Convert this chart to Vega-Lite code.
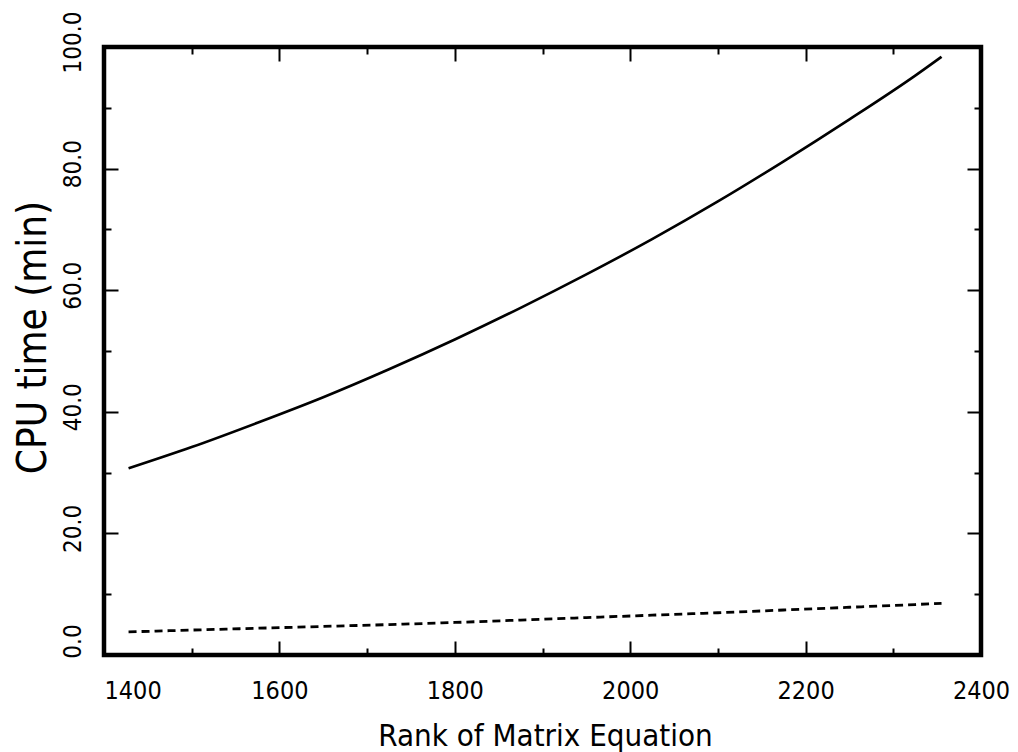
{
  "$schema": "https://vega.github.io/schema/vega-lite/v6.json",
  "width": 877,
  "height": 608,
  "autosize": {"type": "none"},
  "padding": {"left": 104, "top": 47, "right": 37, "bottom": 97},
  "background": "white",
  "config": {
    "view": {"stroke": "black", "strokeWidth": 4.5},
    "axis": {
      "domain": false,
      "grid": false,
      "tickColor": "black",
      "tickWidth": 2,
      "labelColor": "black",
      "titleColor": "black",
      "labelFont": "DejaVu Sans Condensed",
      "titleFont": "DejaVu Sans Condensed",
      "titleFontWeight": "normal",
      "labelOverlap": false,
      "labelBound": false,
      "labelFlush": false
    }
  },
  "data": {
    "values": [
      {"rank": 1428, "cpu": 30.7, "curve": "upper"},
      {"rank": 1500, "cpu": 34.2, "curve": "upper"},
      {"rank": 1575, "cpu": 38.2, "curve": "upper"},
      {"rank": 1650, "cpu": 42.4, "curve": "upper"},
      {"rank": 1725, "cpu": 47.0, "curve": "upper"},
      {"rank": 1800, "cpu": 51.9, "curve": "upper"},
      {"rank": 1875, "cpu": 57.1, "curve": "upper"},
      {"rank": 1950, "cpu": 62.6, "curve": "upper"},
      {"rank": 2025, "cpu": 68.4, "curve": "upper"},
      {"rank": 2100, "cpu": 74.6, "curve": "upper"},
      {"rank": 2175, "cpu": 81.2, "curve": "upper"},
      {"rank": 2250, "cpu": 88.1, "curve": "upper"},
      {"rank": 2325, "cpu": 95.3, "curve": "upper"},
      {"rank": 2355, "cpu": 98.4, "curve": "upper"},
      {"rank": 1428, "cpu": 3.8, "curve": "lower"},
      {"rank": 1500, "cpu": 4.1, "curve": "lower"},
      {"rank": 1575, "cpu": 4.4, "curve": "lower"},
      {"rank": 1650, "cpu": 4.7, "curve": "lower"},
      {"rank": 1725, "cpu": 5.0, "curve": "lower"},
      {"rank": 1800, "cpu": 5.35, "curve": "lower"},
      {"rank": 1875, "cpu": 5.75, "curve": "lower"},
      {"rank": 1950, "cpu": 6.15, "curve": "lower"},
      {"rank": 2025, "cpu": 6.55, "curve": "lower"},
      {"rank": 2100, "cpu": 6.95, "curve": "lower"},
      {"rank": 2175, "cpu": 7.4, "curve": "lower"},
      {"rank": 2250, "cpu": 7.85, "curve": "lower"},
      {"rank": 2325, "cpu": 8.3, "curve": "lower"},
      {"rank": 2355, "cpu": 8.5, "curve": "lower"}
    ]
  },
  "layer": [
    {
      "transform": [{"filter": "datum.curve == 'upper'"}],
      "mark": {"type": "line", "color": "black", "strokeWidth": 2.6, "interpolate": "monotone"},
      "encoding": {
        "x": {
          "field": "rank",
          "type": "quantitative",
          "scale": {"domain": [1400, 2400], "nice": false, "zero": false},
          "axis": {
            "orient": "bottom",
            "values": [1400, 1500, 1600, 1700, 1800, 1900, 2000, 2100, 2200, 2300, 2400],
            "tickSize": {"condition": {"test": "datum.value % 200 == 0", "value": -14}, "value": -7},
            "labelExpr": "datum.value % 200 == 0 ? format(datum.value, 'd') : ''",
            "labelFontSize": 25,
            "labelBaseline": "alphabetic",
            "labelPadding": 57,
            "labelAlign": {"condition": {"test": "datum.value == 1400", "value": "left"}, "value": "center"},
            "title": "Rank of Matrix Equation",
            "titleFontSize": 31,
            "titleBaseline": "alphabetic",
            "titleAlign": "center",
            "titleX": 441,
            "titleY": 90
          }
        },
        "y": {
          "field": "cpu",
          "type": "quantitative",
          "scale": {"domain": [0, 100], "nice": false, "zero": false},
          "axis": {
            "orient": "left",
            "values": [0, 10, 20, 30, 40, 50, 60, 70, 80, 90, 100],
            "tickSize": {"condition": {"test": "datum.value % 20 == 0", "value": -14}, "value": -7},
            "labelExpr": "datum.value % 20 == 0 ? format(datum.value, '.1f') : ''",
            "labelFontSize": 24,
            "labelAngle": 270,
            "labelAlign": "center",
            "labelBaseline": "alphabetic",
            "labelPadding": 38,
            "labelOffset": {"condition": {"test": "datum.value == 0", "value": -14}, "value": -5},
            "title": "CPU time (min)",
            "titleFontSize": 40,
            "titleAngle": 270,
            "titleAlign": "center",
            "titleBaseline": "alphabetic",
            "titleX": -59,
            "titleY": 290
          }
        }
      }
    },
    {
      "transform": [{"filter": "datum.curve == 'lower'"}],
      "mark": {"type": "line", "color": "black", "strokeWidth": 2.8, "strokeDash": [8, 5], "interpolate": "monotone"},
      "encoding": {
        "x": {
          "field": "rank",
          "type": "quantitative",
          "axis": {
            "orient": "top",
            "values": [1400, 1500, 1600, 1700, 1800, 1900, 2000, 2100, 2200, 2300, 2400],
            "tickSize": {"condition": {"test": "datum.value % 200 == 0", "value": -14}, "value": -7},
            "labels": false,
            "title": null
          }
        },
        "y": {
          "field": "cpu",
          "type": "quantitative",
          "axis": {
            "orient": "right",
            "values": [0, 10, 20, 30, 40, 50, 60, 70, 80, 90, 100],
            "tickSize": {"condition": {"test": "datum.value % 20 == 0", "value": -14}, "value": -7},
            "labels": false,
            "title": null
          }
        }
      }
    }
  ],
  "resolve": {"axis": {"x": "independent", "y": "independent"}}
}
